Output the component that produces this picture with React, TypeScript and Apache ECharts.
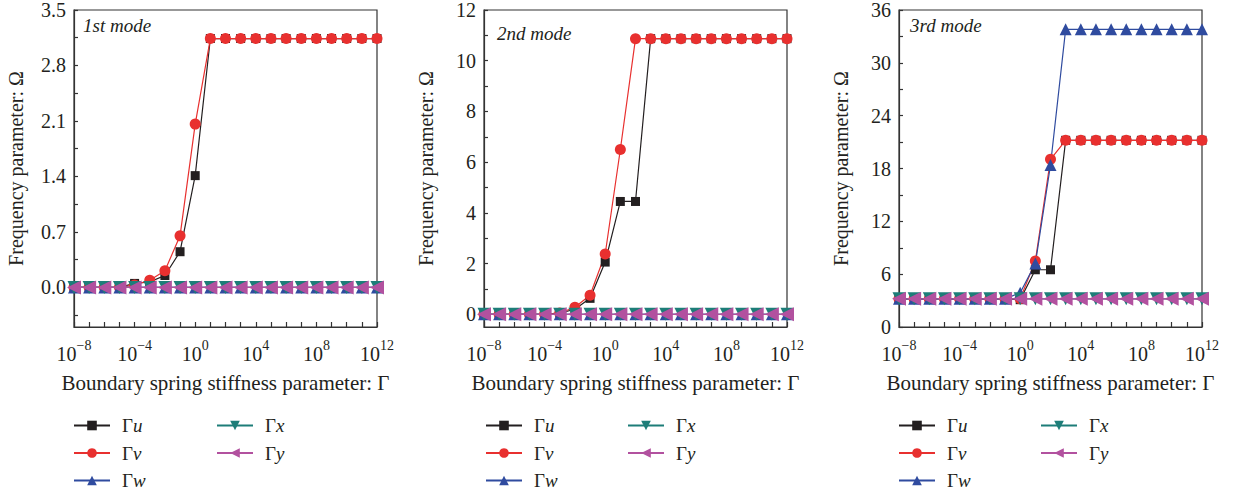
import React, { useEffect, useRef } from "react";
import * as echarts from "echarts";

// exponents of the boundary spring stiffness parameter Γ (10^e)
const exponents = [-8, -7, -6, -5, -4, -3, -2, -1, 0, 1, 2, 3, 4, 5, 6, 7, 8, 9, 10, 11, 12];
const xLabelValues = [-8, -4, 0, 4, 8, 12];

// 1st mode
const mode1U = [0, 0, 0, 0, 0.05, 0.07, 0.15, 0.45, 1.41, 3.14, 3.14, 3.14, 3.14, 3.14, 3.14, 3.14, 3.14, 3.14, 3.14, 3.14, 3.14];
const mode1V = [0, 0, 0, 0, 0.03, 0.09, 0.21, 0.65, 2.06, 3.14, 3.14, 3.14, 3.14, 3.14, 3.14, 3.14, 3.14, 3.14, 3.14, 3.14, 3.14];
const mode1W = [0, 0, 0, 0, 0, 0, 0, 0, 0, 0, 0, 0, 0, 0, 0, 0, 0, 0, 0, 0, 0];
const mode1X = [0, 0, 0, 0, 0, 0, 0, 0, 0, 0, 0, 0, 0, 0, 0, 0, 0, 0, 0, 0, 0];
const mode1Y = [0, 0, 0, 0, 0, 0, 0, 0, 0, 0, 0, 0, 0, 0, 0, 0, 0, 0, 0, 0, 0];

// 2nd mode
const mode2U = [0, 0, 0, 0, 0.01, 0.05, 0.2, 0.63, 2.06, 4.45, 4.45, 10.87, 10.87, 10.87, 10.87, 10.87, 10.87, 10.87, 10.87, 10.87, 10.87];
const mode2V = [0, 0, 0, 0, 0.01, 0.05, 0.28, 0.75, 2.38, 6.5, 10.87, 10.87, 10.87, 10.87, 10.87, 10.87, 10.87, 10.87, 10.87, 10.87, 10.87];
const mode2W = [0, 0, 0, 0, 0, 0, 0, 0, 0, 0, 0, 0, 0, 0, 0, 0, 0, 0, 0, 0, 0];
const mode2X = [0, 0, 0, 0, 0, 0, 0, 0, 0, 0, 0, 0, 0, 0, 0, 0, 0, 0, 0, 0, 0];
const mode2Y = [0, 0, 0, 0, 0, 0, 0, 0, 0, 0, 0, 0, 0, 0, 0, 0, 0, 0, 0, 0, 0];

// 3rd mode
const mode3U = [3.2, 3.2, 3.2, 3.2, 3.2, 3.2, 3.2, 3.2, 3.1, 6.5, 6.5, 21.2, 21.2, 21.2, 21.2, 21.2, 21.2, 21.2, 21.2, 21.2, 21.2];
const mode3V = [3.2, 3.2, 3.2, 3.2, 3.2, 3.2, 3.2, 3.2, 3.2, 7.5, 19.05, 21.2, 21.2, 21.2, 21.2, 21.2, 21.2, 21.2, 21.2, 21.2, 21.2];
const mode3W = [3.2, 3.2, 3.2, 3.2, 3.2, 3.2, 3.2, 3.2, 3.9, 7.2, 18.4, 33.8, 33.8, 33.8, 33.8, 33.8, 33.8, 33.8, 33.8, 33.8, 33.8];
const mode3X = [3.2, 3.2, 3.2, 3.2, 3.2, 3.2, 3.2, 3.2, 3.2, 3.2, 3.2, 3.2, 3.2, 3.2, 3.2, 3.2, 3.2, 3.2, 3.2, 3.2, 3.2];
const mode3Y = [3.2, 3.2, 3.2, 3.2, 3.2, 3.2, 3.2, 3.2, 3.2, 3.2, 3.2, 3.2, 3.2, 3.2, 3.2, 3.2, 3.2, 3.2, 3.2, 3.2, 3.2];

const modeTitles = ["1st mode", "2nd mode", "3rd mode"];
const seriesNames = ["Γu", "Γv", "Γw", "Γx", "Γy"];
const xAxisName = "Boundary spring stiffness parameter: Γ";
const yAxisName = "Frequency parameter: Ω";

const yRanges = [
  { min: -0.5, max: 3.5, labels: [0, 0.7, 1.4, 2.1, 2.8, 3.5], ticks: [-0.35, 0, 0.35, 0.7, 1.05, 1.4, 1.75, 2.1, 2.45, 2.8, 3.15, 3.5], digits: 1 },
  { min: -0.5, max: 12, labels: [0, 2, 4, 6, 8, 10, 12], ticks: [0, 1, 2, 3, 4, 5, 6, 7, 8, 9, 10, 11, 12], digits: 0 },
  { min: 0, max: 36, labels: [0, 6, 12, 18, 24, 30, 36], ticks: [0, 3, 6, 9, 12, 15, 18, 21, 24, 27, 30, 33, 36], digits: 0 },
];

const panelData = [
  [mode1U, mode1V, mode1W, mode1X, mode1Y],
  [mode2U, mode2V, mode2W, mode2X, mode2Y],
  [mode3U, mode3V, mode3W, mode3X, mode3Y],
];

const FONT = "Liberation Serif";
const colors = ["#231f20", "#e8302f", "#2f4b9f", "#1d7d78", "#b2519f"];
const symbols = ["rect", "circle", "triangle", "triangle", "triangle"];
const symbolRotates = [0, 0, 0, 180, 90];
const symbolSizes = [9, 11, 12, 13, 14];

const gridLefts = [74, 484, 899];
const legendLefts = [
  [68, 211],
  [480, 622],
  [893, 1035],
];
const titlePos = [
  [83, 16],
  [497, 24],
  [910, 16],
];

function supText(v: number): string {
  return v < 0 ? "\u2212" + Math.abs(v) : String(v);
}

export default function App() {
  const ref = useRef<HTMLDivElement>(null);
  useEffect(() => {
    if (!ref.current) return;
    const chart = echarts.init(ref.current, null, { renderer: "svg" });

    const grids: any[] = [];
    const xAxes: any[] = [];
    const yAxes: any[] = [];
    const series: any[] = [];
    const legends: any[] = [];
    const graphics: any[] = [];

    for (let p = 0; p < 3; p++) {
      grids.push({
        left: gridLefts[p],
        top: 8,
        width: 303,
        height: 319,
        show: true,
        borderColor: "#333",
        borderWidth: 1.2,
        backgroundColor: "transparent",
      });
      xAxes.push({
        type: "value",
        gridIndex: p,
        min: -8,
        max: 12,
        interval: 4,
        name: xAxisName,
        nameLocation: "middle",
        nameGap: 45,
        nameTextStyle: { fontFamily: FONT, fontSize: 21, color: "#231f20" },
        axisLine: { show: true, onZero: false, lineStyle: { color: "#333", width: 1.2 } },
        axisTick: { show: true, inside: true, length: 5, customValues: exponents, lineStyle: { color: "#333", width: 1.2 } },
        splitLine: { show: false },
        axisLabel: {
          margin: 11,
          customValues: xLabelValues,
          formatter: (v: number) => `{b|10}{s|${supText(v)}}`,
          rich: {
            b: { fontFamily: FONT, fontSize: 20, color: "#231f20", lineHeight: 26, verticalAlign: "bottom" },
            s: { fontFamily: FONT, fontSize: 14, color: "#231f20", lineHeight: 12, verticalAlign: "top" },
          },
        },
      });
      const yr = yRanges[p];
      yAxes.push({
        type: "value",
        gridIndex: p,
        min: yr.min,
        max: yr.max,
        name: yAxisName,
        nameLocation: "middle",
        nameGap: 48,
        nameTextStyle: { fontFamily: FONT, fontSize: 20, color: "#231f20" },
        axisLine: { show: true, onZero: false, lineStyle: { color: "#333", width: 1.2 } },
        axisTick: { show: true, inside: true, length: 4, customValues: yr.ticks, lineStyle: { color: "#333", width: 1.2 } },
        splitLine: { show: false },
        axisLabel: {
          margin: 8,
          customValues: yr.labels,
          formatter: (v: number) => v.toFixed(yr.digits),
          fontFamily: FONT,
          fontSize: 20,
          color: "#231f20",
        },
      });
      for (let s = 0; s < 5; s++) {
        series.push({
          type: "line",
          name: seriesNames[s],
          xAxisIndex: p,
          yAxisIndex: p,
          data: exponents.map((e, i) => [e, panelData[p][s][i]]),
          symbol: symbols[s],
          symbolSize: symbolSizes[s],
          symbolRotate: symbolRotates[s],
          showAllSymbol: true,
          color: colors[s],
          itemStyle: { color: colors[s] },
          lineStyle: { color: colors[s], width: 1.2 },
        });
      }
      const legendCommon = {
        orient: "vertical",
        top: 411,
        itemWidth: 36,
        itemHeight: 12,
        itemGap: 8.5,
        selectedMode: false,
        formatter: (name: string) => `{g|Γ}{i|${name.slice(1)}}`,
        textStyle: {
          fontFamily: FONT,
          fontSize: 19,
          color: "#231f20",
          rich: {
            g: { fontFamily: FONT, fontSize: 19, color: "#231f20", padding: [0, 0, 0, 7], lineHeight: 20 },
            i: { fontFamily: FONT, fontSize: 19, fontStyle: "italic", color: "#231f20", lineHeight: 20 },
          },
        },
      };
      legends.push({ ...legendCommon, left: legendLefts[p][0], data: ["Γu", "Γv", "Γw"] });
      legends.push({ ...legendCommon, left: legendLefts[p][1], data: ["Γx", "Γy"] });
      graphics.push({
        type: "text",
        left: titlePos[p][0],
        top: titlePos[p][1],
        style: { text: modeTitles[p], font: `italic 19px "${FONT}"`, fill: "#231f20" },
      });
    }

    chart.setOption({
      animation: false,
      backgroundColor: "#ffffff",
      grid: grids,
      xAxis: xAxes,
      yAxis: yAxes,
      series,
      legend: legends,
      graphic: graphics,
    });
    return () => chart.dispose();
  }, []);
  return <div ref={ref} style={{ position: "fixed", left: 0, top: 0, width: 1234, height: 496 }} />;
}
